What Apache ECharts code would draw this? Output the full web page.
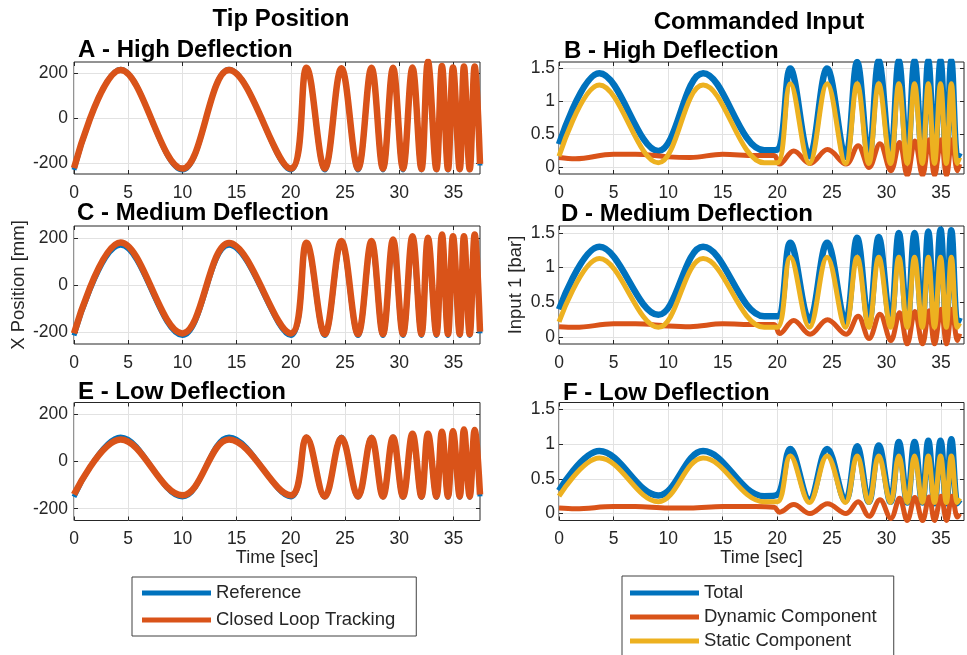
<!DOCTYPE html>
<html>
<head>
<meta charset="utf-8">
<script src="https://cdn.jsdelivr.net/npm/echarts@6/dist/echarts.min.js"></script>
<style>
  html, body { margin: 0; padding: 0; background: #fff; }
  #main { width: 967px; height: 655px; }
</style>
</head>
<body>
<div id="main"></div>
<script>
// tick values
var xTicks = [0, 5, 10, 15, 20, 25, 30, 35];
var posTicks = [-200, 0, 200];
var inTicks = [0, 0.5, 1, 1.5];

// tip position panels (A, C, E): times of the peaks / troughs
var tPos = [0, 4.3, 10, 14.3, 20, 21.45, 23.13, 24.67, 26.2, 27.44, 28.5, 29.43, 30.35, 31.22, 32.05, 32.65, 33.43, 33.94, 34.5, 34.96, 35.58, 35.97, 36.5, 36.96, 37.45];
var refA = [-232, 218, -232, 218, -232, 222, -232, 222, -232, 222, -232, 222, -232, 222, -232, 222, -232, 222, -232, 222, -232, 222, -232, 222, -212];
var trackA = [-224, 214, -226, 214, -226, 224, -226, 222, -226, 224, -226, 224, -226, 226, -228, 252, -228, 232, -228, 226, -228, 230, -228, 230, -205];
var refC = [-214, 168, -214, 168, -214, 168, -214, 168, -214, 168, -214, 168, -214, 168, -214, 168, -214, 168, -214, 168, -214, 168, -214, 168, -205];
var trackC = [-205, 180, -205, 178, -205, 179, -208, 186, -208, 186, -208, 193, -208, 207, -208, 200, -208, 214, -208, 207, -208, 207, -208, 214, -198];
var refE = [-150, 104, -150, 104, -150, 104, -152, 104, -152, 104, -152, 104, -152, 104, -152, 104, -152, 104, -152, 104, -152, 104, -152, 104, -148];
var trackE = [-140, 93, -143, 93, -143, 102, -148, 100, -148, 100, -148, 102, -148, 118, -148, 118, -148, 126, -148, 128, -148, 136, -148, 134, -140];

// commanded input panels (B, D, F)
var tIn = [0, 3.7, 9.1, 13.2, 18.8, 20.0, 21.19, 22.94, 24.56, 26.24, 27.31, 28.38, 29.29, 30.37, 31.13, 31.9, 32.57, 33.28, 33.83, 34.4, 34.95, 35.48, 35.94, 36.49, 36.7];
var tDyn = [0, 1.5, 5, 7, 10, 12, 15, 18, 19.7, 20.2, 21.5, 23.0, 24.6, 26.3, 27.4, 28.4, 29.4, 30.4, 31.2, 31.9, 32.6, 33.3, 33.9, 34.4, 35.0, 35.5, 36.0, 36.5, 36.7];
var totalB = [0.35, 1.43, 0.25, 1.43, 0.26, 0.27, 1.5, 0.17, 1.5, 0.16, 1.6, 0.15, 1.62, 0.15, 1.62, 0.15, 1.62, 0.15, 1.62, 0.15, 1.62, 0.15, 1.62, 0.15, 0.22];
var staticB = [0.17, 1.25, 0.07, 1.25, 0.07, 0.07, 1.27, 0.06, 1.27, 0.06, 1.27, 0.06, 1.27, 0.06, 1.27, 0.06, 1.27, 0.06, 1.27, 0.06, 1.27, 0.06, 1.27, 0.06, 0.15];
var dynB = [0.15, 0.13, 0.2, 0.2, 0.16, 0.15, 0.2, 0.18, 0.18, 0.05, 0.25, 0.06, 0.27, 0.05, 0.33, 0.0, 0.36, -0.05, 0.38, -0.12, 0.4, -0.12, 0.42, -0.12, 0.42, -0.12, 0.42, -0.05, 0.05];
var totalD = [0.4, 1.3, 0.32, 1.3, 0.3, 0.3, 1.36, 0.24, 1.36, 0.22, 1.43, 0.21, 1.44, 0.2, 1.5, 0.2, 1.5, 0.2, 1.52, 0.2, 1.55, 0.2, 1.54, 0.2, 0.28];
var staticD = [0.22, 1.13, 0.14, 1.13, 0.14, 0.14, 1.15, 0.14, 1.15, 0.14, 1.15, 0.14, 1.15, 0.14, 1.15, 0.14, 1.15, 0.14, 1.15, 0.14, 1.15, 0.14, 1.15, 0.14, 0.2];
var dynD = [0.15, 0.14, 0.19, 0.19, 0.16, 0.15, 0.19, 0.18, 0.18, 0.05, 0.24, 0.04, 0.25, 0.04, 0.3, -0.02, 0.33, -0.05, 0.35, -0.1, 0.37, -0.1, 0.38, -0.1, 0.4, -0.1, 0.4, -0.05, 0.05];
var totalF = [0.33, 0.9, 0.26, 0.9, 0.25, 0.27, 0.93, 0.2, 0.93, 0.18, 0.97, 0.17, 0.98, 0.17, 1.03, 0.16, 1.03, 0.16, 1.05, 0.15, 1.05, 0.15, 1.07, 0.15, 0.2];
var staticF = [0.25, 0.8, 0.17, 0.8, 0.17, 0.17, 0.83, 0.16, 0.83, 0.16, 0.83, 0.16, 0.83, 0.16, 0.83, 0.16, 0.83, 0.16, 0.83, 0.16, 0.83, 0.16, 0.83, 0.16, 0.22];
var dynF = [0.08, 0.07, 0.1, 0.1, 0.08, 0.08, 0.1, 0.1, 0.09, 0.02, 0.13, 0.0, 0.14, 0.0, 0.17, -0.04, 0.2, -0.07, 0.22, -0.1, 0.23, -0.1, 0.24, -0.1, 0.25, -0.1, 0.25, -0.05, 0.0];

var myChart = echarts.init(document.getElementById('main'));

var FONT = 'Liberation Sans, Arial, Helvetica, sans-serif';
var INK = '#262626';
var BLUE = '#0072BD', ORANGE = '#D95319', YELLOW = '#EDB120';

function zip(t, v) {
  return t.map(function (x, i) { return [x, v[i]]; });
}

// column / row layout (px)
var cols = [
  { left: 74, width: 406, xMax: 37.45, yMin: -250, yMax: 250, yTicks: posTicks, labelGap: 6 },
  { left: 559, width: 405, xMax: 37.1, yMin: -0.1, yMax: 1.6, yTicks: inTicks, labelGap: 4 }
];
var rows = [
  { top: 62, height: 112 },
  { top: 226, height: 118 },
  { top: 402.5, height: 118 }
];

var panels = [
  { tag: 'A - High Deflection', col: 0, row: 0, lines: [['Reference', BLUE, 5, tPos, refA], ['Closed Loop Tracking', ORANGE, 6.5, tPos, trackA]] },
  { tag: 'B - High Deflection', col: 1, row: 0, lines: [['Total', BLUE, 6.5, tIn, totalB], ['Dynamic Component', ORANGE, 5, tDyn, dynB], ['Static Component', YELLOW, 5, tIn, staticB]] },
  { tag: 'C - Medium Deflection', col: 0, row: 1, yName: 'X Position [mm]', lines: [['Reference', BLUE, 5, tPos, refC], ['Closed Loop Tracking', ORANGE, 6.5, tPos, trackC]] },
  { tag: 'D - Medium Deflection', col: 1, row: 1, yName: 'Input 1 [bar]', lines: [['Total', BLUE, 6.5, tIn, totalD], ['Dynamic Component', ORANGE, 5, tDyn, dynD], ['Static Component', YELLOW, 5, tIn, staticD]] },
  { tag: 'E - Low Deflection', col: 0, row: 2, xName: 'Time [sec]', lines: [['Reference', BLUE, 5, tPos, refE], ['Closed Loop Tracking', ORANGE, 6.5, tPos, trackE]] },
  { tag: 'F - Low Deflection', col: 1, row: 2, xName: 'Time [sec]', lines: [['Total', BLUE, 6.5, tIn, totalF], ['Dynamic Component', ORANGE, 5, tDyn, dynF], ['Static Component', YELLOW, 5, tIn, staticF]] }
];

var grids = [], xAxes = [], yAxes = [], series = [];
var graphics = [
  { type: 'text', x: 281, y: 19, style: { text: 'Tip Position', fontSize: 24, fontWeight: 'bold', fontFamily: FONT, fill: '#000', align: 'center', verticalAlign: 'middle', textAlign: 'center', textVerticalAlign: 'middle' } },
  { type: 'text', x: 759, y: 22, style: { text: 'Commanded Input', fontSize: 24, fontWeight: 'bold', fontFamily: FONT, fill: '#000', align: 'center', verticalAlign: 'middle', textAlign: 'center', textVerticalAlign: 'middle' } }
];
var tagPos = [[78, 50], [564, 51], [77, 213], [561, 214], [78, 392], [563, 393]];

panels.forEach(function (p, i) {
  var c = cols[p.col], r = rows[p.row];
  grids.push({
    left: c.left, top: r.top, width: c.width, height: r.height,
    show: true, borderColor: INK, borderWidth: 1, backgroundColor: '#fff'
  });
  var tickStyle = { show: true, inside: true, length: 4, lineStyle: { color: INK, width: 1 } };
  xAxes.push({
    type: 'value', gridIndex: i, position: 'bottom', min: 0, max: c.xMax,
    axisLine: { show: false, onZero: false },
    axisTick: Object.assign({ customValues: xTicks }, tickStyle),
    axisLabel: { customValues: xTicks, fontSize: 17.5, color: INK, fontFamily: FONT, margin: 10 },
    splitLine: { show: true, lineStyle: { color: '#e2e2e2', width: 1 } },
    name: p.xName || '', nameLocation: 'middle', nameGap: 28,
    nameTextStyle: { fontSize: 18, color: INK, fontFamily: FONT }
  });
  xAxes.push({
    type: 'value', gridIndex: i, position: 'top', min: 0, max: c.xMax,
    axisLine: { show: false, onZero: false },
    axisTick: Object.assign({ customValues: xTicks }, tickStyle),
    axisLabel: { show: false }, splitLine: { show: false }
  });
  yAxes.push({
    type: 'value', gridIndex: i, position: 'left', min: c.yMin, max: c.yMax,
    axisLine: { show: false, onZero: false },
    axisTick: Object.assign({ customValues: c.yTicks }, tickStyle),
    axisLabel: { customValues: c.yTicks, fontSize: 17.5, color: INK, fontFamily: FONT, margin: c.labelGap },
    splitLine: { show: true, lineStyle: { color: '#e2e2e2', width: 1 } },
    name: p.yName || '', nameLocation: 'middle', nameRotate: 90,
    nameGap: p.col === 0 ? 46 : 34,
    nameTextStyle: { fontSize: 18.5, color: INK, fontFamily: FONT }
  });
  yAxes.push({
    type: 'value', gridIndex: i, position: 'right', min: c.yMin, max: c.yMax,
    axisLine: { show: false, onZero: false },
    axisTick: Object.assign({ customValues: c.yTicks }, tickStyle),
    axisLabel: { show: false }, splitLine: { show: false }
  });
  p.lines.forEach(function (l) {
    series.push({
      name: l[0], type: 'line', xAxisIndex: 2 * i, yAxisIndex: 2 * i,
      data: zip(l[3], l[4]),
      smooth: 0.38, showSymbol: false, symbol: 'none',
      lineStyle: { color: l[1], width: l[2] },
      itemStyle: { color: l[1] },
      emphasis: { disabled: true }
    });
  });
  graphics.push({
    type: 'text', x: tagPos[i][0], y: tagPos[i][1],
    style: { text: p.tag, fontSize: 24, fontWeight: 'bold', fontFamily: FONT, fill: '#000', align: 'left', verticalAlign: 'middle', textAlign: 'left', textVerticalAlign: 'middle' }
  });
});

var legendText = { fontSize: 18.5, color: INK, fontFamily: FONT, lineHeight: 20 };
var option = {
  animation: false,
  backgroundColor: '#fff',
  grid: grids,
  xAxis: xAxes,
  yAxis: yAxes,
  series: series,
  graphic: graphics,
  legend: [
    {
      data: ['Reference', 'Closed Loop Tracking'], orient: 'vertical', left: 132, top: 577,
      icon: 'rect', itemWidth: 69, itemHeight: 5, itemGap: 7, padding: [6, 21, 6, 10],
      borderColor: '#404040', borderWidth: 1, backgroundColor: '#fff',
      textStyle: legendText, selectedMode: false
    },
    {
      data: ['Total', 'Dynamic Component', 'Static Component'], orient: 'vertical', left: 622, top: 576, height: 120,
      icon: 'rect', itemWidth: 69, itemHeight: 5, itemGap: 4, padding: [7, 17, 7, 8],
      borderColor: '#404040', borderWidth: 1, backgroundColor: '#fff',
      textStyle: legendText, selectedMode: false
    }
  ]
};
myChart.setOption(option);
</script>
</body>
</html>
